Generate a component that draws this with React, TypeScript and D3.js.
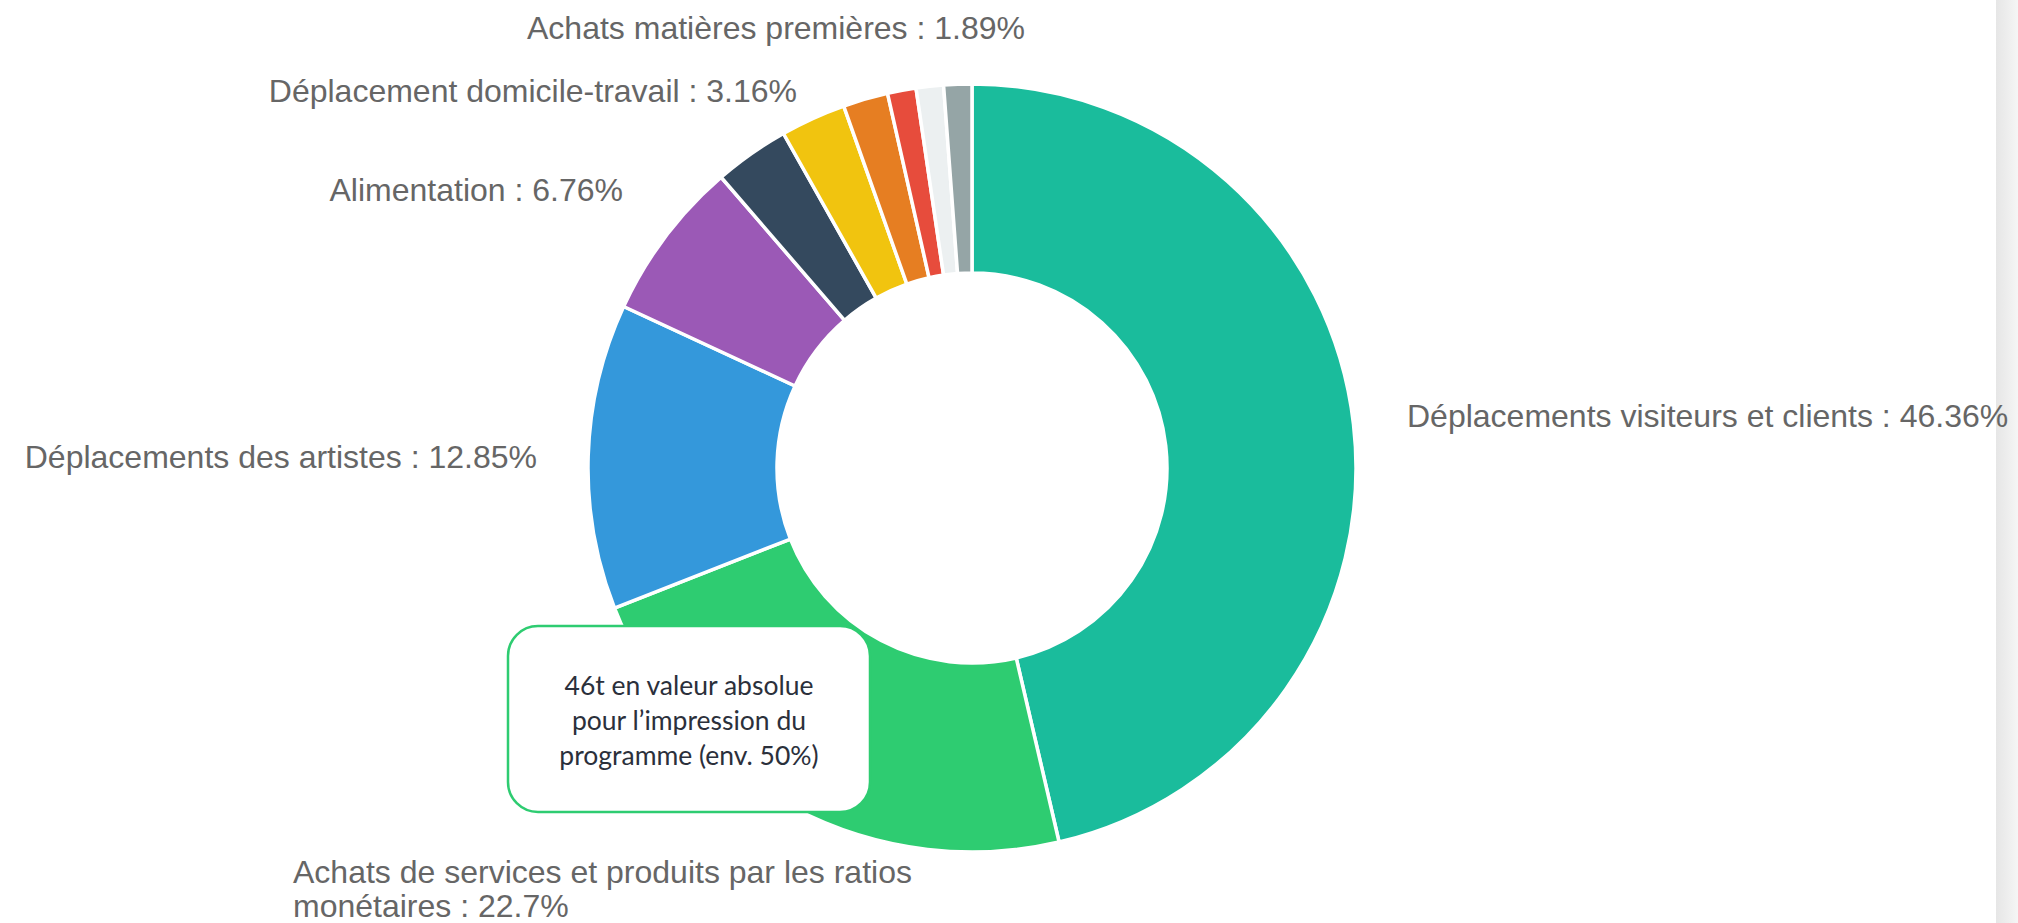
import React from 'react';
import * as d3 from 'd3';

// Répartition des émissions (%), dans l'ordre horaire depuis midi
const categories = [
  'Déplacements visiteurs et clients',
  'Achats de services et produits par les ratios monétaires',
  'Déplacements des artistes',
  'Alimentation',
  'Déplacement domicile-travail',
  'Fret',
  'Achats matières premières',
  'Énergie',
  'Déchets',
  'Immobilisations',
];
const shares = [46.36, 22.7, 12.85, 6.76, 3.16, 2.75, 1.89, 1.2, 1.15, 1.18];
const sliceColors = [
  '#1abc9c', '#2ecc71', '#3498db', '#9b59b6', '#34495e',
  '#f1c40f', '#e67e22', '#e74c3c', '#ecf0f1', '#95a5a6',
];
// labels shown by the chart (the smallest slices have none)
const showLabel = [true, true, true, true, true, false, true, false, false, false];

const noteLines = ['46t en valeur absolue', 'pour l’impression du', 'programme (env. 50%)'];

// where each visible label sits (layout, not data)
const labelLayout: Record<number, {x: number; y: number; anchor: string; wrap?: number}> = {
  0: {x: 1407, y: 427, anchor: 'start'},
  1: {x: 293, y: 883, anchor: 'start', wrap: 8},
  2: {x: 537, y: 468, anchor: 'end'},
  3: {x: 623, y: 201, anchor: 'end'},
  4: {x: 797, y: 102, anchor: 'end'},
  6: {x: 1025, y: 39, anchor: 'end'},
};

const sizing = {
  width: 2018,
  height: 923,
  cx: 972,
  cy: 468,
  outer: 384,
  inner: 195,
};

const textStyle = {
  color: '#666666',
  size: 32,
  family: '"Liberation Sans", Arial, Helvetica, sans-serif',
};

export default function App() {
  const pie = d3.pie<number>().sort(null).value(d => d);
  const arcs = pie(shares);
  const arc = d3.arc<d3.PieArcDatum<number>>()
    .innerRadius(sizing.inner)
    .outerRadius(sizing.outer);

  const labelLines = (i: number): string[] => {
    const full = `${categories[i]} : ${shares[i]}%`;
    const wrap = labelLayout[i].wrap;
    if (!wrap) return [full];
    const words = full.split(' ');
    return [words.slice(0, wrap).join(' '), words.slice(wrap).join(' ')];
  };

  return (
    <div style={{position: 'absolute', left: 0, top: 0}}>
      <svg width={sizing.width} height={sizing.height} style={{display: 'block', background: '#fff'}}>
        <defs>
          <linearGradient id="scrollbar" x1="0" x2="1" y1="0" y2="0">
            <stop offset="0" stopColor="#e6e6e6" />
            <stop offset="1" stopColor="#f5f5f5" />
          </linearGradient>
        </defs>
        <rect x={1996} y={0} width={22} height={sizing.height} fill="url(#scrollbar)" />

        <g transform={`translate(${sizing.cx},${sizing.cy})`}>
          {arcs.map((a, i) => (
            <path key={i} d={arc(a) || ''} fill={sliceColors[i]} stroke="#fff" strokeWidth={3.5} strokeLinejoin="round" />
          ))}
        </g>

        <g fontFamily={textStyle.family} fontSize={textStyle.size} fill={textStyle.color}>
          {categories.map((_, i) => {
            if (!showLabel[i]) return null;
            const lay = labelLayout[i];
            return (
              <text key={i} x={lay.x} y={lay.y} textAnchor={lay.anchor}>
                {labelLines(i).map((line, j) => (
                  <tspan key={j} x={lay.x} dy={j === 0 ? 0 : 34}>{line}</tspan>
                ))}
              </text>
            );
          })}
        </g>

        <rect x={508} y={626} width={362} height={186} rx={30} ry={30} fill="#fff" stroke="#2ecc71" strokeWidth={2.5} />
        <g fontFamily="Lato, 'Open Sans', sans-serif" fontSize={26.5} fill="#2b303b" textAnchor="middle">
          {noteLines.map((line, i) => (
            <text key={i} x={689} y={695 + i * 35}>{line}</text>
          ))}
        </g>
      </svg>
    </div>
  );
}
